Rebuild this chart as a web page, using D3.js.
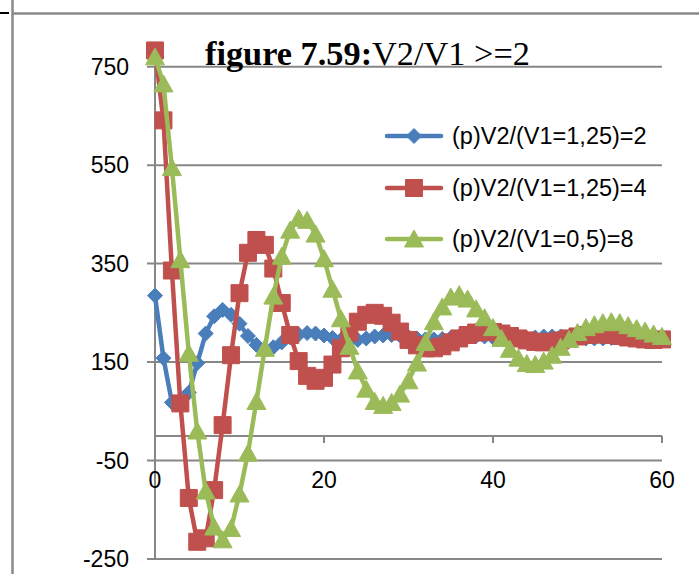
<!DOCTYPE html>
<html>
<head>
<meta charset="utf-8">
<script src="https://cdn.jsdelivr.net/npm/d3@7"></script>
<style>
  body { margin: 0; background: #fff; }
  svg { display: block; }
</style>
</head>
<body>
<svg id="chart" width="699" height="574"></svg>
<script>
// Periods on the horizontal axis
const periods = d3.range(0, 61);

// Legend names of the three price paths
const seriesNames = ["(p)V2/(V1=1,25)=2", "(p)V2/(V1=1,25)=4", "(p)V2/(V1=0,5)=8"];

// Price path for V2/V1 = 2
const ratio2 = [285, 158, 68, 72, 88, 148, 208, 243, 256, 246,
                228, 203, 185, 176, 180, 190, 200, 206, 209, 208,
                204, 199, 195, 194, 195, 198, 202, 204, 205, 204,
                201, 198, 196, 196, 197, 199, 202, 203, 203, 202,
                200, 198, 197, 197, 198, 200, 202, 202, 202, 201,
                199, 198, 198, 198, 199, 201, 201, 201, 200, 199, 199];

// Price path for V2/V1 = 4
const ratio4 = [783, 641, 336, 66, -126, -215, -208, -110, 22, 164,
                290, 372, 398, 388, 340, 270, 205, 152, 122, 112,
                118, 145, 178, 210, 232, 246, 250, 244, 230, 212,
                195, 184, 178, 178, 182, 190, 198, 205, 210, 212,
                211, 208, 203, 198, 194, 191, 190, 191, 194, 198,
                202, 205, 206, 206, 205, 203, 200, 198, 196, 195, 196];

// Price path for V2/V1 = 8
const ratio8 = [770, 715, 545, 358, 168, 10, -112, -185, -211, -188,
                -118, -35, 70, 178, 284, 365, 418, 442, 438, 410,
                360, 298, 238, 182, 132, 95, 70, 62, 68, 85,
                112, 148, 190, 232, 262, 282, 287, 278, 258, 240,
                220, 198, 176, 158, 147, 145, 152, 164, 180, 196,
                210, 220, 226, 230, 232, 230, 224, 218, 213, 207, 202];

const yTicks = [-250, -50, 150, 350, 550, 750];
const xTicks = [0, 20, 40, 60];
const titleBold = "figure 7.59:";
const titleRest = "V2/V1 >=2";

const colors = ["#4a7ebb", "#c0504d", "#9bbb59"];
const shapes = ["diamond", "square", "triangle"];
const seriesData = [ratio2, ratio4, ratio8];

const svg = d3.select("#chart");
svg.append("rect").attr("width", 699).attr("height", 574).attr("fill", "#fff");

// Page frame around the chart
svg.append("line").attr("x1", 12).attr("x2", 699).attr("y1", 13.5).attr("y2", 13.5)
  .attr("stroke", "#8a8a8a").attr("stroke-width", 2.5);
svg.append("line").attr("x1", 12.5).attr("x2", 12.5).attr("y1", 0).attr("y2", 574)
  .attr("stroke", "#8a8a8a").attr("stroke-width", 2.5);
svg.append("line").attr("x1", 0).attr("x2", 9).attr("y1", 13).attr("y2", 13)
  .attr("stroke", "#000").attr("stroke-width", 2);

const x = d3.scaleLinear().domain([0, 60]).range([155, 662]);
const y = d3.scaleLinear().domain([-250, 750]).range([559, 66.7]);

const gridColor = "#878787";
const fontSans = "'Liberation Sans', Arial, sans-serif";

// Horizontal gridlines (with the outside tick mark on the left)
svg.append("g").selectAll("line").data(yTicks).join("line")
  .attr("x1", 147).attr("x2", x(60))
  .attr("y1", d => y(d)).attr("y2", d => y(d))
  .attr("stroke", gridColor).attr("stroke-width", 2);

// Value axis line
svg.append("line").attr("x1", x(0)).attr("x2", x(0))
  .attr("y1", y(750)).attr("y2", y(-250))
  .attr("stroke", gridColor).attr("stroke-width", 2);

// Category axis crossing at zero
svg.append("line").attr("x1", x(0)).attr("x2", x(60))
  .attr("y1", y(0)).attr("y2", y(0))
  .attr("stroke", gridColor).attr("stroke-width", 2);
svg.append("g").selectAll("line").data(xTicks).join("line")
  .attr("x1", d => x(d)).attr("x2", d => x(d))
  .attr("y1", y(0)).attr("y2", y(0) + 7)
  .attr("stroke", gridColor).attr("stroke-width", 2);

// Tick labels
svg.append("g").selectAll("text").data(yTicks).join("text")
  .attr("x", 129).attr("y", d => y(d) + 8)
  .attr("text-anchor", "end")
  .style("font-family", fontSans).style("font-size", "23px").attr("fill", "#000")
  .text(d => d);
svg.append("g").selectAll("text").data(xTicks).join("text")
  .attr("x", d => x(d)).attr("y", y(0) + 52)
  .attr("text-anchor", "middle")
  .style("font-family", fontSans).style("font-size", "23px").attr("fill", "#000")
  .text(d => d);

// Marker shapes
function markerPath(kind) {
  if (kind === "diamond") return "M0,-7.5L7.5,0L0,7.5L-7.5,0Z";
  if (kind === "square") return "M-8.5,-8.5H8.5V8.5H-8.5Z";
  return "M0,-9L9.5,8L-9.5,8Z";
}

const line = d3.line().x((d, i) => x(periods[i])).y(d => y(d));

// Series: line then markers, drawn in order so later series sit on top
seriesData.forEach((vals, s) => {
  const g = svg.append("g");
  g.append("path").datum(vals)
    .attr("d", line)
    .attr("fill", "none").attr("stroke", colors[s])
    .attr("stroke-width", 4.5)
    .attr("stroke-linejoin", "round").attr("stroke-linecap", "round");
  g.selectAll("path.m").data(vals).join("path").attr("class", "m")
    .attr("transform", (d, i) => `translate(${x(periods[i])},${y(d)})`)
    .attr("d", markerPath(shapes[s]))
    .attr("fill", colors[s]).attr("stroke", colors[s]).attr("stroke-width", 1);
});

// Legend
const legendY = [136, 188, 239];
seriesNames.forEach((name, s) => {
  const g = svg.append("g");
  g.append("line").attr("x1", 387).attr("x2", 441)
    .attr("y1", legendY[s]).attr("y2", legendY[s])
    .attr("stroke", colors[s]).attr("stroke-width", 4.5).attr("stroke-linecap", "round");
  g.append("path").attr("transform", `translate(414,${legendY[s]})`)
    .attr("d", markerPath(shapes[s])).attr("fill", colors[s])
    .attr("stroke", colors[s]).attr("stroke-width", 1);
  g.append("text").attr("x", 452).attr("y", legendY[s] + 8)
    .style("font-family", fontSans).style("font-size", "23.5px").attr("fill", "#000")
    .text(name);
});

// Title: bold figure number followed by the regular caption
const title = svg.append("text").attr("x", 205).attr("y", 65)
  .style("font-family", "'Liberation Serif', 'Times New Roman', serif")
  .style("font-size", "30px").attr("fill", "#000");
title.append("tspan").style("font-weight", "bold").text(titleBold);
title.append("tspan").text(titleRest);
const tw = title.node().getComputedTextLength();
title.style("font-size", (30 * 325 / tw).toFixed(2) + "px");
</script>
</body>
</html>
